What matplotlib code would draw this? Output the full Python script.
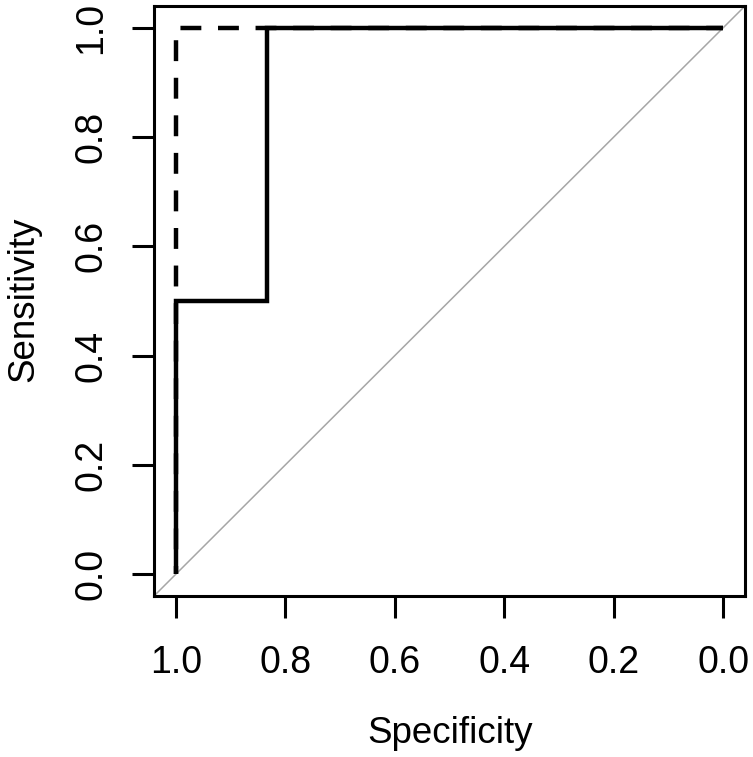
import matplotlib
matplotlib.use("Agg")
import matplotlib.pyplot as plt

# ROC curves (specificity, sensitivity)
roc_spec = [1.0, 1.0, 0.833, 0.833, 0.0]
roc_sens = [0.0, 0.5, 0.5, 1.0, 1.0]

smooth_spec = [1.0, 1.0, 0.0]
smooth_sens = [0.0, 1.0, 1.0]

tick_vals = [0.0, 0.2, 0.4, 0.6, 0.8, 1.0]
tick_labels = ["0.0", "0.2", "0.4", "0.6", "0.8", "1.0"]

plt.rcParams["font.family"] = ["Liberation Sans", "DejaVu Sans"]
FS = 26.5
TFS = 27

fig = plt.figure(figsize=(7.53, 7.57), dpi=100)
ax = fig.add_axes([154 / 753, 1 - 596 / 757, 591 / 753, 590 / 757])

# chance line
ax.axline((1, 0), (0, 1), color="#a6a6a6", lw=1.1, zorder=1)

# dashed curve under the solid one
ax.plot(smooth_spec, smooth_sens, color="black", lw=3.2,
        linestyle=(2.9, (4.7, 3.75)), solid_capstyle="butt",
        dash_capstyle="butt", zorder=2)
ax.plot(roc_spec, roc_sens, color="black", lw=3.2,
        solid_joinstyle="miter", solid_capstyle="butt", zorder=3)

ax.set_xlim(1.04, -0.04)
ax.set_ylim(-0.04, 1.04)

ax.set_xticks(tick_vals)
ax.set_xticklabels(tick_labels)
ax.set_yticks(tick_vals)
ax.set_yticklabels(tick_labels, rotation=90, va="center")

ax.tick_params(direction="out", length=16, width=2.2, labelsize=TFS)
ax.tick_params(axis="x", pad=19)
ax.tick_params(axis="y", pad=16)
for s in ax.spines.values():
    s.set_linewidth(2.2)

fig.text(450 / 753, 1 - 743 / 757, "Specificity", ha="center", va="baseline",
         fontsize=FS)
fig.text(33 / 753, 1 - 299 / 757, "Sensitivity", ha="center", va="baseline",
         rotation=90, rotation_mode="anchor", fontsize=FS)

fig.savefig("out.png", dpi=100)
